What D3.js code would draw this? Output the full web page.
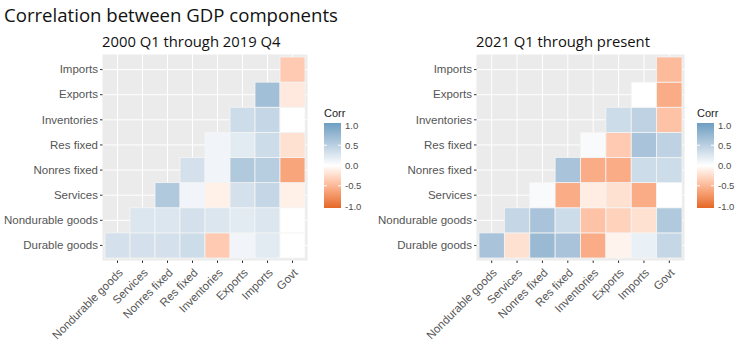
<!DOCTYPE html>
<html>
<head>
<meta charset="utf-8">
<script src="https://cdn.jsdelivr.net/npm/d3@7"></script>
<style>
  body { margin: 0; background: #fff; }
  text { font-family: "Liberation Sans", Arial, sans-serif; }
</style>
</head>
<body>
<div id="chart"></div>
<script>
// variables on the y axis, bottom to top
var rowNames = ['Durable goods', 'Nondurable goods', 'Services', 'Nonres fixed',
  'Res fixed', 'Inventories', 'Exports', 'Imports'];
// variables on the x axis, left to right
var colNames = ['Nondurable goods', 'Services', 'Nonres fixed', 'Res fixed',
  'Inventories', 'Exports', 'Imports', 'Govt'];

// lower triangle: row i holds correlations with colNames[i..7]
var corrPre = [
  [0.30, 0.30, 0.30, 0.35, -0.35, 0.10, 0.20, 0.00],
  [0.25, 0.25, 0.30, 0.25, 0.20, 0.25, 0.00],
  [0.55, 0.10, -0.10, 0.30, 0.40, -0.10],
  [0.30, 0.10, 0.55, 0.50, -0.60],
  [0.10, 0.20, 0.35, -0.20],
  [0.35, 0.40, 0.00],
  [0.65, -0.15],
  [-0.35]
];
var corrPost = [
  [0.60, -0.20, 0.70, 0.60, -0.55, -0.08, 0.15, 0.40],
  [0.40, 0.60, 0.35, -0.40, -0.30, -0.20, 0.55],
  [0.05, -0.55, -0.12, -0.20, -0.55, 0.00],
  [0.60, -0.55, -0.55, 0.35, 0.35],
  [0.05, -0.35, 0.60, 0.45],
  [0.35, 0.45, -0.40],
  [0.00, -0.55],
  [-0.45]
];
var legendTicks = [1.0, 0.5, 0.0, -0.5, -1.0];

var svg = d3.select('#chart').append('svg')
    .attr('width', 740)
    .attr('height', 349);

var fill = d3.scaleLinear()
    .domain([-1, 0, 1])
    .range(['#E46726', '#ffffff', '#6D9EC1'])
    .interpolate(d3.interpolateLab);

var defs = svg.append('defs');
var grad = defs.append('linearGradient')
    .attr('id', 'corrgrad')
    .attr('x1', 0).attr('y1', 1).attr('x2', 0).attr('y2', 0);
d3.range(0, 1.0001, 0.05).forEach(function(t) {
  grad.append('stop')
      .attr('offset', t)
      .attr('stop-color', fill(-1 + 2 * t));
});

svg.append('text')
    .attr('x', 4).attr('y', 22)
    .attr('font-size', 18.6)
    .attr('fill', '#111')
    .style('font-family', '"Open Sans", sans-serif')
    .text('Correlation between GDP components');

function panel(values, subtitle, x0, x1, legendX) {
  var g = svg.append('g');
  var x = d3.scaleBand().domain(colNames).range([x0, x1]);
  var y = d3.scaleBand().domain(rowNames).range([258, 57]);
  var pad = 2.5;

  g.append('rect')
      .attr('x', x0 - pad).attr('y', 57 - pad)
      .attr('width', x1 - x0 + 2 * pad).attr('height', 258 - 57 + 2 * pad)
      .attr('fill', '#EBEBEB');

  // grid lines at category centres
  g.selectAll('.vg').data(colNames).enter().append('line')
      .attr('x1', function(d) { return x(d) + x.bandwidth() / 2; })
      .attr('x2', function(d) { return x(d) + x.bandwidth() / 2; })
      .attr('y1', 57 - pad).attr('y2', 258 + pad)
      .attr('stroke', '#fff').attr('stroke-width', 1);
  g.selectAll('.hg').data(rowNames).enter().append('line')
      .attr('y1', function(d) { return y(d) + y.bandwidth() / 2; })
      .attr('y2', function(d) { return y(d) + y.bandwidth() / 2; })
      .attr('x1', x0 - pad).attr('x2', x1 + pad)
      .attr('stroke', '#fff').attr('stroke-width', 1);

  var cells = [];
  values.forEach(function(row, i) {
    row.forEach(function(v, j) {
      cells.push({ r: rowNames[i], c: colNames[i + j], v: v });
    });
  });

  g.selectAll('.cell').data(cells).enter().append('rect')
      .attr('x', function(d) { return x(d.c); })
      .attr('y', function(d) { return y(d.r); })
      .attr('width', x.bandwidth())
      .attr('height', y.bandwidth())
      .attr('fill', function(d) { return fill(d.v); })
      .attr('stroke', '#f4f4f4')
      .attr('stroke-width', 0.8);

  // y axis
  var ya = g.append('g')
      .attr('transform', 'translate(' + (x0 - pad) + ',0)')
      .call(d3.axisLeft(y).tickSize(2.5).tickPadding(2));
  ya.select('.domain').remove();
  ya.selectAll('line').attr('stroke', '#333');
  ya.selectAll('text').attr('font-size', 11.5).attr('fill', '#555')
      .style('font-family', '"Liberation Sans", Arial, sans-serif');

  // x axis
  var xa = g.append('g')
      .attr('transform', 'translate(0,' + (258 + pad) + ')')
      .call(d3.axisBottom(x).tickSize(2.5).tickPadding(2));
  xa.select('.domain').remove();
  xa.selectAll('line').attr('stroke', '#333');
  xa.selectAll('text')
      .attr('font-size', 11.5).attr('fill', '#555')
      .style('font-family', '"Liberation Sans", Arial, sans-serif')
      .attr('text-anchor', 'end')
      .attr('y', 0).attr('dy', 0)
      .attr('transform', 'translate(6,13) rotate(-45)');

  svg.append('text')
      .attr('x', x0 - 3).attr('y', 47)
      .attr('font-size', 14.8)
      .attr('fill', '#111')
      .style('font-family', '"Open Sans", sans-serif')
      .text(subtitle);

  // legend
  var lg = svg.append('g');
  var ly = d3.scaleLinear().domain([-1, 1]).range([206, 125]);
  lg.append('text')
      .attr('x', legendX).attr('y', 117)
      .attr('font-size', 11).attr('fill', '#222')
      .text('Corr');
  lg.append('rect')
      .attr('x', legendX).attr('y', 123)
      .attr('width', 17).attr('height', 85)
      .attr('fill', 'url(#corrgrad)');
  lg.selectAll('.lt').data(legendTicks.slice(1, 4)).enter().append('g')
      .each(function(d) {
        var s = d3.select(this);
        s.append('line').attr('x1', legendX).attr('x2', legendX + 3)
            .attr('y1', ly(d)).attr('y2', ly(d)).attr('stroke', '#fff');
        s.append('line').attr('x1', legendX + 14).attr('x2', legendX + 17)
            .attr('y1', ly(d)).attr('y2', ly(d)).attr('stroke', '#fff');
      });
  lg.selectAll('.ll').data(legendTicks).enter().append('text')
      .attr('x', legendX + 21)
      .attr('y', function(d) { return ly(d) + 3.5; })
      .attr('font-size', 9.5).attr('fill', '#4D4D4D')
      .text(function(d) { return d3.format('.1f')(d).replace('−', '-'); });
}

panel(corrPre, '2000 Q1 through 2019 Q4', 105, 305, 324);
panel(corrPost, '2021 Q1 through present', 479, 682, 697);
</script>
</body>
</html>
